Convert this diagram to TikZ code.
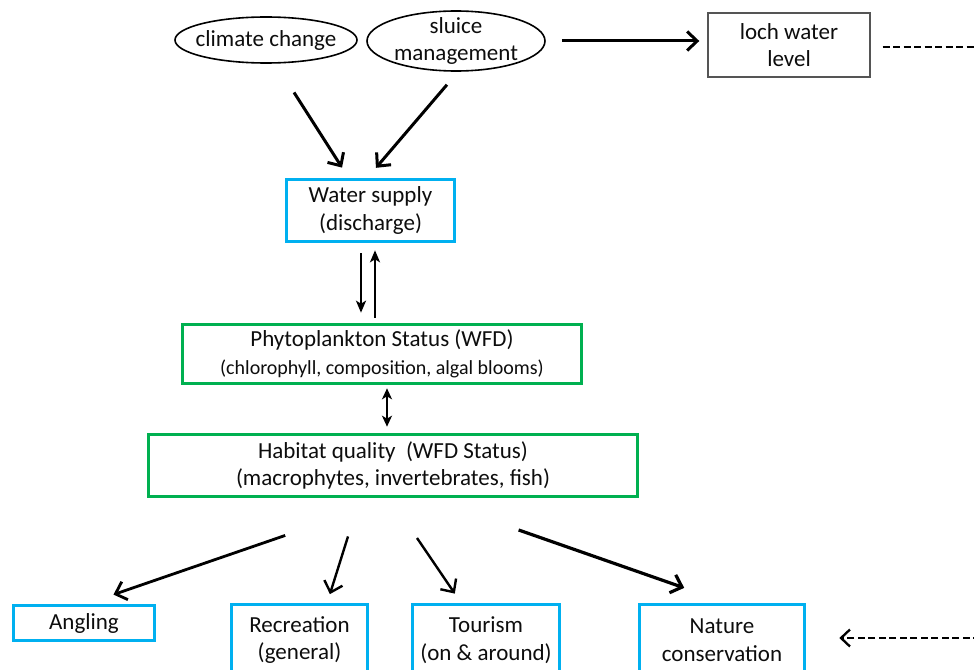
\documentclass[tikz,border=0pt]{standalone}
\usepackage{fontspec}
\setmainfont{Carlito}
\usetikzlibrary{arrows.meta,shapes.geometric}
\definecolor{boxblue}{HTML}{00B0F0}
\definecolor{boxgreen}{HTML}{00B050}
\definecolor{ink}{HTML}{0D0D0D}
\definecolor{edgegrey}{HTML}{555555}

\begin{document}
\begin{tikzpicture}[x=1pt,y=-1pt,
  every node/.style={text=ink, font=\fontsize{23}{27.5}\selectfont, align=center, inner sep=0pt},
  driver/.style={ellipse, draw=black, line width=1.6pt},
  bluebox/.style={rectangle, draw=boxblue, line width=3.6pt},
  greenbox/.style={rectangle, draw=boxgreen, line width=3.6pt},
  greybox/.style={rectangle, draw=edgegrey, line width=1.4pt},
  barb/.style={-{Straight Barb[length=10pt,width=19pt]}, line width=3pt},
  slim/.style={-{Stealth[length=12pt,width=10pt,inset=3pt]}, line width=2.2pt},
  twoway/.style={{Stealth[length=11pt,width=10pt,inset=3pt]}-{Stealth[length=11pt,width=10pt,inset=3pt]}, line width=2.4pt},
  dashline/.style={line width=2.3pt, dash pattern=on 7pt off 3.5pt},
  dasharr/.style={dashline, -{Straight Barb[length=9pt,width=17pt]}}
]
\useasboundingbox (0,0) rectangle (974,669);
\clip (0,0) rectangle (974,669);

% drivers
\node[driver, minimum width=182, minimum height=46, label=center:{climate change}] (cc) at (266,40) {};
\node[driver, minimum width=178, minimum height=60, label=center:{sluice\\management}] (sm) at (456,41) {};
\node[greybox, minimum width=162, minimum height=64] (lw) at (789,45) {loch water\\level};

% water supply and status boxes
\node[bluebox, minimum width=168, minimum height=62] (ws) at (370.5,210.5) {Water supply\\(discharge)};
\node[greenbox, minimum width=399, minimum height=59] (ph) at (382,354)
  {Phytoplankton Status (WFD)\\{\fontsize{20}{26}\selectfont (chlorophyll, composition, algal blooms)}};
\node[greenbox, minimum width=489, minimum height=62] (hb) at (393,465.5)
  {Habitat quality\ \ (WFD Status)\\(macrophytes, invertebrates, fish)};

% uses
\node[bluebox, minimum width=141, minimum height=35] (ang) at (84,623) {Angling};
\node[bluebox, minimum width=136, minimum height=71] (rec) at (299.5,640) {Recreation\\(general)};
\node[bluebox, minimum width=147, minimum height=71] (tour) at (486,640) {Tourism\\(on \& around)};
\node[bluebox, minimum width=165, minimum height=71] (nat) at (722,640) {Nature\\conservation};

% links at the edge of the frame
\coordinate (rimTop) at (980,47);
\coordinate (rimBot) at (980,638);

% connectors
\draw[barb, shorten <=16pt, shorten >=8pt] (sm.east) -- (sm.east -| lw.west);
\draw[dashline, shorten <=12pt] ([yshift=-2]lw.east) -- (rimTop);
\draw[barb, shorten <=34pt, shorten >=12pt] ([xshift=9.7]cc.south) -- ([xshift=-22]ws.north);
\draw[barb, shorten <=17pt, shorten >=13pt] ([xshift=2]sm.south) -- ([xshift=-3]ws.north);

\draw[slim, shorten <=10pt, shorten >=10pt] ([xshift=-9.5]ws.south) -- ([xshift=-21]ph.north);
\draw[slim, shorten <=5pt, shorten >=7pt] ([xshift=-7]ph.north) -- ([xshift=4.5]ws.south);
\draw[twoway, shorten <=3pt, shorten >=6pt] ([xshift=5]ph.south) -- ([xshift=-6]hb.north);

\draw[barb, line width=2.8pt, shorten <=114pt, shorten >=28pt] (hb.south) -- ([xshift=3]ang.north);
\draw[barb, line width=2.4pt, shorten <=40pt, shorten >=9pt] ([xshift=-33]hb.south) -- ([xshift=27.7]rec.north);
\draw[barb, line width=2.4pt, shorten <=48pt, shorten >=11pt] ([xshift=-3]hb.south) -- ([xshift=-25]tour.north);
\draw[barb, line width=3.2pt, shorten <=96pt, shorten >=45pt] ([xshift=35]hb.south) -- ([xshift=4.7]nat.north);

\draw[dasharr, shorten >=33pt] (rimBot) -- (rimBot -| nat.east);
\end{tikzpicture}
\end{document}
